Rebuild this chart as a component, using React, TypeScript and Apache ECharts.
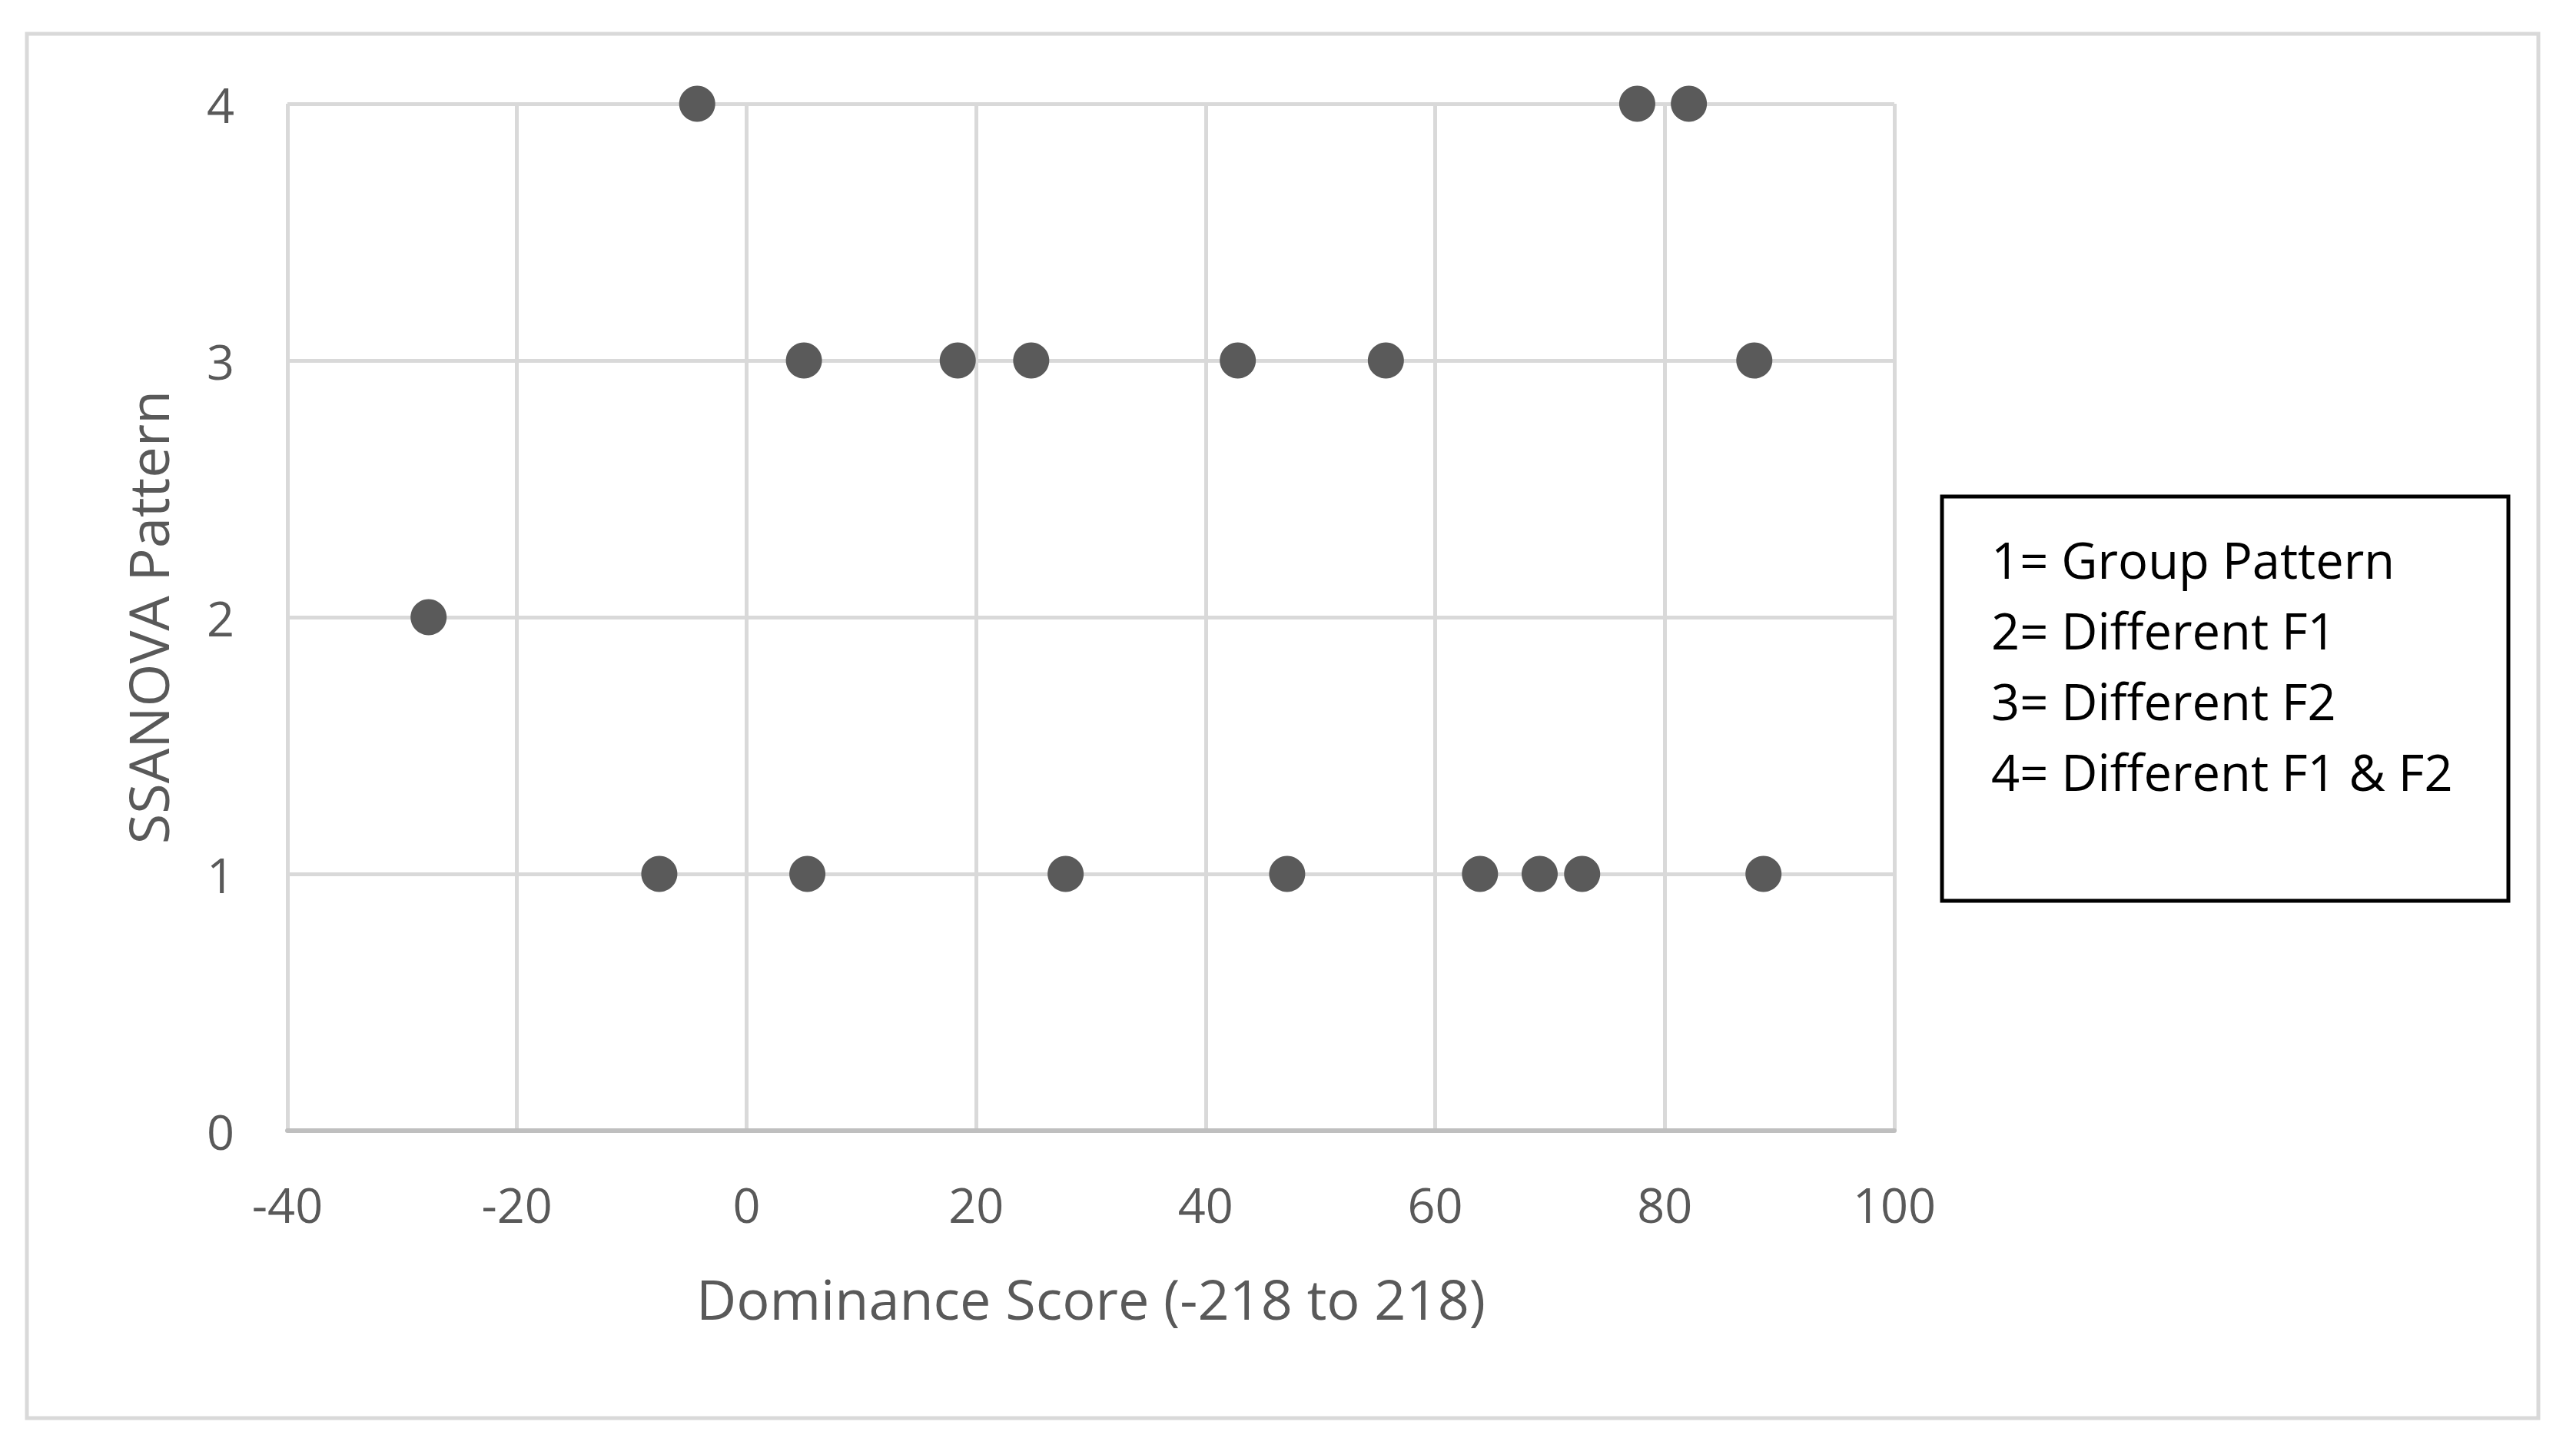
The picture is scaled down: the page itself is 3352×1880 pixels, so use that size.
import React, { useEffect, useRef } from "react";
import * as echarts from "echarts";

// Dominance scores, grouped by SSANOVA pattern (y value)
const pattern1Scores = [-7.6, 5.3, 27.8, 47.1, 63.9, 69.1, 72.8, 88.6];
const pattern2Scores = [-27.7];
const pattern3Scores = [5.0, 18.4, 24.8, 42.8, 55.7, 87.8];
const pattern4Scores = [-4.3, 77.6, 82.1];

const xTicks = { min: -40, max: 100, interval: 20 };
const yTicks = { min: 0, max: 4, interval: 1 };

const xTitle = "Dominance Score (-218 to 218)";
const yTitle = "SSANOVA Pattern";
const legendLines = [
  "1= Group Pattern",
  "2= Different F1",
  "3= Different F2",
  "4= Different F1 & F2",
];

const FONT = "'Open Sans', 'Noto Sans', sans-serif";

export default function App() {
  const ref = useRef<HTMLDivElement>(null);

  useEffect(() => {
    if (!ref.current) return;
    const chart = echarts.init(ref.current, undefined, { renderer: "svg" });

    const points: number[][] = [];
    pattern1Scores.forEach((x) => points.push([x, 1]));
    pattern2Scores.forEach((x) => points.push([x, 2]));
    pattern3Scores.forEach((x) => points.push([x, 3]));
    pattern4Scores.forEach((x) => points.push([x, 4]));

    const legendTexts = legendLines.map((t, i) => ({
      type: "text",
      left: 2591,
      top: 728 + i * 92 - 46,
      style: {
        text: t,
        fill: "#000000",
        font: `65px ${FONT}`,
        textVerticalAlign: "top",
        lineHeight: 92,
      },
    }));

    chart.setOption({
      animation: false,
      backgroundColor: "#ffffff",
      textStyle: { fontFamily: FONT },
      grid: { left: 374, right: 887, top: 135, bottom: 409, containLabel: false },
      xAxis: {
        type: "value",
        min: xTicks.min,
        max: xTicks.max,
        interval: xTicks.interval,
        name: xTitle,
        nameLocation: "middle",
        nameGap: 182,
        nameTextStyle: { fontSize: 72, color: "#595959", fontFamily: FONT },
        axisLine: { show: true, onZero: false, lineStyle: { color: "#bfbfbf", width: 6 } },
        axisTick: { show: false },
        axisLabel: { fontSize: 63, color: "#595959", margin: 64, fontFamily: FONT },
        splitLine: { show: true, lineStyle: { color: "#d9d9d9", width: 5 } },
      },
      yAxis: {
        type: "value",
        min: yTicks.min,
        max: yTicks.max,
        interval: yTicks.interval,
        name: yTitle,
        nameLocation: "middle",
        nameRotate: 90,
        nameGap: 146,
        nameTextStyle: { fontSize: 72, color: "#595959", fontFamily: FONT },
        axisLine: { show: false },
        axisTick: { show: false },
        axisLabel: { fontSize: 63, color: "#595959", margin: 69, fontFamily: FONT },
        splitLine: { show: true, lineStyle: { color: "#d9d9d9", width: 5 } },
      },
      series: [
        {
          type: "scatter",
          data: points,
          symbol: "circle",
          symbolSize: 47,
          itemStyle: { color: "#5a5a5a", opacity: 1 },
          z: 5,
        },
      ],
      graphic: [
        {
          type: "rect",
          shape: { x: 35, y: 44, width: 3268, height: 1801 },
          style: { fill: "none", stroke: "#d9d9d9", lineWidth: 5 },
          silent: true,
          z: -1,
        },
        {
          type: "rect",
          shape: { x: 2527, y: 646, width: 737, height: 526 },
          style: { fill: "#ffffff", stroke: "#000000", lineWidth: 5 },
          silent: true,
        },
        ...legendTexts,
      ],
    });

    return () => chart.dispose();
  }, []);

  return (
    <div
      ref={ref}
      style={{ position: "fixed", left: 0, top: 0, width: 3352, height: 1880 }}
    />
  );
}
